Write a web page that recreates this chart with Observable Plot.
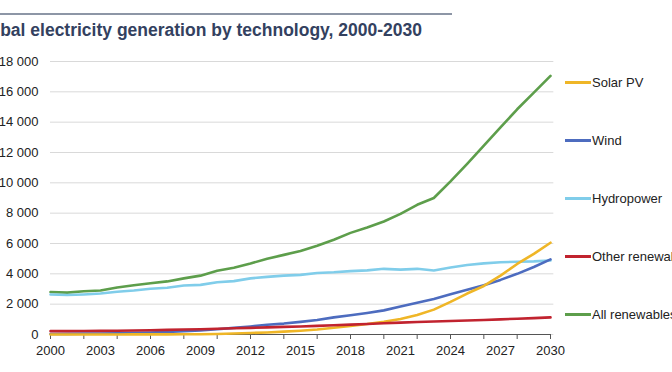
<!DOCTYPE html>
<html>
<head>
<meta charset="utf-8">
<script src="https://cdn.jsdelivr.net/npm/d3@7"></script>
<script src="https://cdn.jsdelivr.net/npm/@observablehq/plot@0.6"></script>
<style>
  html, body { margin: 0; padding: 0; background: #fff; overflow: hidden; }
  #wrap { position: relative; width: 672px; height: 372px; font-family: "Liberation Sans", Arial, sans-serif; }
  #rule { position: absolute; left: 0; top: 13px; width: 452px; height: 2px; background: #8d96a6; }
  #title { position: absolute; left: -29px; top: 20px; font-size: 17.5px; font-weight: bold; color: #33415f; white-space: nowrap; }
  #legend { position: absolute; left: 0; top: 0; }
  .li { position: absolute; left: 565px; display: flex; align-items: center; white-space: nowrap; font-size: 13px; color: #222; }
  .sw { width: 26px; height: 3px; margin-right: 1px; }
  #chart { position: absolute; left: 0; top: 0; }
</style>
</head>
<body>
<div id="wrap">
  <div id="rule"></div>
  <div id="title">Global electricity generation by technology, 2000-2030</div>
  <div id="chart"></div>
  <div id="legend"></div>
</div>
<script>
const years = [2000,2001,2002,2003,2004,2005,2006,2007,2008,2009,2010,2011,2012,2013,2014,2015,2016,2017,2018,2019,2020,2021,2022,2023,2024,2025,2026,2027,2028,2029,2030];
const solarPV = [1,1,2,3,4,5,6,8,12,20,32,65,100,135,190,250,330,450,570,690,840,1020,1280,1640,2150,2700,3200,3880,4650,5320,6050];
const wind = [30,40,55,65,85,105,135,170,220,275,345,435,530,640,720,830,960,1130,1270,1420,1590,1850,2100,2340,2650,2950,3250,3600,4000,4450,4950];
const hydropower = [2640,2600,2640,2700,2820,2900,3020,3080,3230,3270,3450,3520,3700,3800,3880,3930,4050,4100,4180,4230,4330,4280,4330,4220,4420,4580,4690,4760,4800,4820,4880];
const otherRenewables = [220,225,230,240,250,265,285,305,330,350,380,410,440,470,500,530,570,610,650,690,740,780,820,860,890,920,960,1000,1040,1080,1130];
const allRenewables = [2800,2760,2850,2900,3100,3250,3380,3500,3700,3880,4200,4400,4680,5000,5250,5500,5850,6250,6700,7050,7450,7950,8550,9000,10100,11250,12450,13650,14850,15950,17050];

const seriesNames = ["Solar PV","Wind","Hydropower","Other renewables","All renewables"];
const seriesColors = ["#efb627","#4d6cbf","#80cdea","#c1232f","#5d9e4b"];
const drawOrder = ["All renewables","Hydropower","Wind","Solar PV","Other renewables"];
const yTicks = [0,2000,4000,6000,8000,10000,12000,14000,16000,18000];
const xMinorTicks = [2000,2002,2004,2006,2008,2010,2012,2014,2016,2018,2020,2022,2024,2026,2028,2030];
const xLabelTicks = [2000,2003,2006,2009,2012,2015,2018,2021,2024,2027,2030];

const valuesBySeries = {
  "Solar PV": solarPV,
  "Wind": wind,
  "Hydropower": hydropower,
  "Other renewables": otherRenewables,
  "All renewables": allRenewables
};
const rows = [];
for (const name of drawOrder) {
  valuesBySeries[name].forEach((v, i) => rows.push({series: name, year: years[i], value: v}));
}
const colorOf = Object.fromEntries(seriesNames.map((n, i) => [n, seriesColors[i]]));
const fmt = d => d3.format(",")(d).replace(/,/g, " ");

const plot = Plot.plot({
  width: 672,
  height: 372,
  marginLeft: 50,
  marginRight: 122,
  marginTop: 61,
  marginBottom: 38,
  style: {fontFamily: "Liberation Sans, Arial, sans-serif", fontSize: "13px", color: "#222", background: "transparent"},
  x: {domain: [2000, 2030]},
  y: {domain: [0, 18000]},
  marks: [
    Plot.gridY(yTicks, {stroke: "#d9d9d9", strokeOpacity: 1, strokeWidth: 1, x1: 2000, x2: 2030.2}),
    Plot.axisY({ticks: yTicks, tickSize: 0, tickPadding: 12, tickFormat: fmt, label: null, fill: "#222"}),
    Plot.ruleY([0], {stroke: "#555", strokeWidth: 1}),
    Plot.axisX({ticks: xMinorTicks, tickSize: 5, tickFormat: () => "", label: null, stroke: "#555"}),
    Plot.axisX({ticks: xLabelTicks, tickSize: 0, tickPadding: 11, tickFormat: d => String(d), label: null, fill: "#222"}),
    Plot.line(rows, {x: "year", y: "value", z: "series", stroke: d => colorOf[d.series], strokeWidth: 2.6, curve: "linear"})
  ]
});
document.getElementById("chart").appendChild(plot);

const legendY = [82, 140, 198, 256, 314];
const legend = document.getElementById("legend");
seriesNames.forEach((name, i) => {
  const li = document.createElement("div");
  li.className = "li";
  li.style.top = (legendY[i] - 8) + "px";
  li.style.height = "16px";
  const sw = document.createElement("span");
  sw.className = "sw";
  sw.style.background = seriesColors[i];
  const tx = document.createElement("span");
  tx.textContent = name;
  li.appendChild(sw);
  li.appendChild(tx);
  legend.appendChild(li);
});
</script>
</body>
</html>
